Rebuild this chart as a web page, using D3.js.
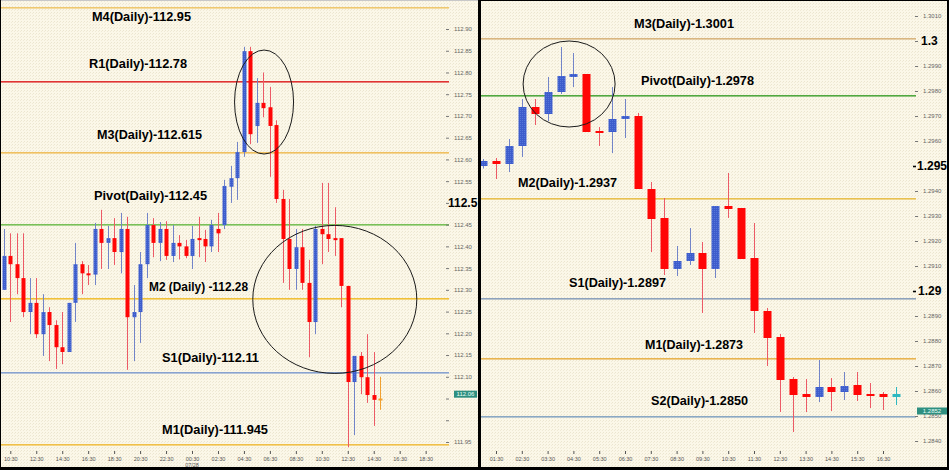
<!DOCTYPE html>
<html><head><meta charset="utf-8">
<script src="https://cdn.jsdelivr.net/npm/d3@7/dist/d3.min.js"></script>
<style>
html,body{margin:0;padding:0;background:#fff;}
svg{display:block;}
</style></head><body>
<svg id="chart" width="949" height="470"></svg>
<script>
// ---------------- DATA ----------------
// Left panel: 30-minute candles starting 07/27 10:00
const leftOpen  = [112.300,112.378,112.359,112.327,112.249,112.270,112.198,112.249,112.219,112.168,112.157,112.270,112.359,112.338,112.335,112.440,112.408,112.419,112.387,112.440,112.237,112.249,112.359,112.449,112.408,112.440,112.378,112.408,112.400,112.378,112.419,112.417,112.400,112.440,112.449,112.537,112.557,112.617,112.849,112.677,112.730,112.720,112.679,112.509,112.417,112.348,112.398,112.316,112.226,112.440,112.428,112.419,112.419,112.309,112.088,112.148,112.099,112.058,112.050];
const leftHigh  = [112.440,112.430,112.430,112.430,112.327,112.327,112.290,112.260,112.230,112.249,112.270,112.408,112.366,112.357,112.454,112.484,112.447,112.465,112.477,112.468,112.311,112.387,112.477,112.465,112.456,112.458,112.449,112.426,112.415,112.447,112.468,112.438,112.461,112.477,112.553,112.585,112.640,112.859,112.859,112.787,112.800,112.767,112.690,112.530,112.509,112.440,112.440,112.369,112.447,112.546,112.546,112.490,112.419,112.309,112.148,112.157,112.198,112.157,112.100];
const leftLow   = [112.300,112.226,112.290,112.237,112.198,112.189,112.148,112.136,112.118,112.129,112.157,112.226,112.290,112.311,112.311,112.348,112.348,112.357,112.338,112.116,112.136,112.178,112.327,112.375,112.366,112.369,112.364,112.370,112.373,112.348,112.375,112.364,112.387,112.387,112.440,112.500,112.507,112.606,112.635,112.638,112.697,112.560,112.500,112.316,112.300,112.300,112.300,112.145,112.198,112.359,112.387,112.378,112.260,111.938,111.966,112.060,112.040,111.987,112.024];
const leftClose = [112.378,112.359,112.327,112.249,112.270,112.198,112.249,112.219,112.168,112.157,112.270,112.359,112.338,112.335,112.440,112.408,112.419,112.387,112.440,112.237,112.249,112.359,112.449,112.408,112.440,112.378,112.408,112.400,112.378,112.417,112.415,112.400,112.449,112.430,112.539,112.557,112.617,112.849,112.658,112.730,112.718,112.677,112.509,112.417,112.348,112.398,112.316,112.226,112.440,112.428,112.417,112.416,112.309,112.088,112.148,112.099,112.058,112.047,112.049];

// Right panel: 30-minute candles starting 01:00
const rightOpen  = [1.29500,1.29520,1.29508,1.29580,1.29736,1.29708,1.29796,1.29856,1.29868,1.29640,1.29636,1.29688,1.29700,1.29408,1.29292,1.29088,1.29120,1.29152,1.29088,1.29340,1.29332,1.29132,1.28920,1.28816,1.28648,1.28588,1.28576,1.28616,1.28596,1.28624,1.28588,1.28588,1.28576];
const rightHigh  = [1.29528,1.29532,1.29608,1.29768,1.29768,1.29856,1.29976,1.29952,1.29868,1.29656,1.29816,1.29768,1.29712,1.29436,1.29372,1.29180,1.29252,1.29196,1.29340,1.29472,1.29332,1.29272,1.28932,1.28828,1.28656,1.28648,1.28724,1.28652,1.28676,1.28676,1.28632,1.28596,1.28616];
const rightLow   = [1.29490,1.29448,1.29476,1.29536,1.29664,1.29680,1.29788,1.29816,1.29636,1.29580,1.29552,1.29612,1.29408,1.29156,1.29064,1.29060,1.29104,1.28912,1.29052,1.29292,1.29128,1.28832,1.28700,1.28516,1.28436,1.28516,1.28556,1.28520,1.28564,1.28560,1.28532,1.28524,1.28544];
const rightClose = [1.29520,1.29508,1.29580,1.29736,1.29708,1.29796,1.29860,1.29868,1.29636,1.29636,1.29688,1.29700,1.29408,1.29288,1.29088,1.29120,1.29152,1.29088,1.29340,1.29328,1.29128,1.28920,1.28812,1.28644,1.28584,1.28576,1.28616,1.28596,1.28620,1.28584,1.28584,1.28576,1.28588];

// Pivot levels
const leftLevelNames  = ["M4(Daily)-112.95","R1(Daily)-112.78","M3(Daily)-112.615","Pivot(Daily)-112.45","M2 (Daily) -112.28","S1(Daily)-112.11","M1(Daily)-111.945"];
const leftLevelValues = [112.95,112.78,112.615,112.45,112.28,112.11,111.945];
const rightLevelNames  = ["M3(Daily)-1.3001","Pivot(Daily)-1.2978","M2(Daily)-1.2937","S1(Daily)-1.2897","M1(Daily)-1.2873","S2(Daily)-1.2850"];
const rightLevelValues = [1.3001,1.2978,1.2937,1.2897,1.2873,1.2850];

// Axis ticks
const leftYTicks = [112.90,112.85,112.80,112.75,112.70,112.65,112.60,112.55,112.50,112.45,112.40,112.35,112.30,112.25,112.20,112.15,112.10,112.05,112.00,111.95];
const leftYTickLabels = ["112.90","112.85","112.80","112.75","112.70","112.65","112.60","112.55","112.5","112.45","112.40","112.35","112.30","112.25","112.20","112.15","112.10","","","111.95"];
const rightYTicks = [1.3010,1.3000,1.2990,1.2980,1.2970,1.2960,1.2950,1.2940,1.2930,1.2920,1.2910,1.2900,1.2890,1.2880,1.2870,1.2860,1.2850,1.2840];
const rightYTickLabels = ["1.3010","1.3","1.2990","1.2980","1.2970","1.2960","1.295","1.2940","1.2930","1.2920","1.2910","1.29","1.2890","1.2880","1.2870","1.2860","1.2850","1.2840"];
const leftXTickLabels = ["10:30","12:30","14:30","16:30","18:30","20:30","22:30","00:30","02:30","04:30","06:30","08:30","10:30","12:30","14:30","16:30","18:30"];
const rightXTickLabels = ["01:30","02:30","03:30","04:30","05:30","06:30","07:30","08:30","09:30","10:30","11:30","12:30","13:30","14:30","15:30","16:30"];
const leftDateLabel = "07/28";
const leftLastPrice = "112.06";
const rightLastPrice = "1.2852";

// ---------------- LAYOUT / STYLE ----------------
const W = 949, H = 470;
const leftStart = new Date(2014, 6, 27, 10, 0);
const rightStart = new Date(2014, 6, 28, 1, 0);
const svg = d3.select("#chart");

const defs = svg.append("defs");
const pat = defs.append("pattern").attr("id","bgdots").attr("width",3).attr("height",3).attr("patternUnits","userSpaceOnUse");
pat.append("rect").attr("width",3).attr("height",3).attr("fill","#fbf7e8");
pat.append("rect").attr("x",0).attr("y",0).attr("width",1).attr("height",1).attr("fill","#ebe5cf");
pat.append("rect").attr("x",2).attr("y",1).attr("width",1).attr("height",1).attr("fill","#f0ead6");
const bpat = defs.append("pattern").attr("id","bluetex").attr("width",2).attr("height",2).attr("patternUnits","userSpaceOnUse");
bpat.append("rect").attr("width",2).attr("height",2).attr("fill","#3d5ccc");
bpat.append("rect").attr("width",1).attr("height",1).attr("fill","#5576d8");

svg.append("rect").attr("x",0).attr("y",0).attr("width",W).attr("height",H).attr("fill","url(#bgdots)");

function tickDates(labels, start){
  let day = new Date(start.getFullYear(), start.getMonth(), start.getDate());
  let prevH = -1;
  return labels.map(s => {
    const [h, m] = s.split(":").map(Number);
    if (h < prevH) day = d3.timeDay.offset(day, 1);
    prevH = h;
    return new Date(day.getFullYear(), day.getMonth(), day.getDate(), h, m);
  });
}

function drawPanel(cfg){
  const g = svg.append("g");
  const n = cfg.open.length;
  const times = d3.range(n).map(i => d3.timeMinute.offset(cfg.start, 30*i));
  const x = d3.scaleTime().domain([cfg.start, d3.timeMinute.offset(cfg.start, 30*cfg.periods)])
              .range([cfg.x0, cfg.x0 + cfg.step*cfg.periods]);
  const y = d3.scaleLinear().domain(cfg.yDomain).range(cfg.yRange);

  // level lines
  g.selectAll("rect.level").data(cfg.levelValues).join("rect")
    .attr("class", "level")
    .attr("x", cfg.lineX[0]).attr("width", cfg.lineX[1] - cfg.lineX[0])
    .attr("y", d => Math.floor(y(d))).attr("height", 1.6)
    .attr("fill", (d,i) => cfg.levelColors[i]);

  // candles
  const c = g.selectAll("g.candle").data(d3.range(n)).join("g").attr("class","candle");
  const colorOf = i => i === n-1 ? cfg.lastColor : (cfg.close[i] > cfg.open[i] ? "up" : "down");
  c.append("line")
    .attr("x1", i => Math.round(x(times[i]))+0.5).attr("x2", i => Math.round(x(times[i]))+0.5)
    .attr("y1", i => y(cfg.high[i])).attr("y2", i => y(cfg.low[i]))
    .attr("stroke", i => { const k = colorOf(i); return k==="up" ? "#7284c8" : k==="down" ? "#ec5a66" : k; })
    .attr("stroke-width", 1);
  c.append("rect")
    .attr("x", i => Math.round(x(times[i])) + 0.5 - cfg.bodyW/2)
    .attr("width", cfg.bodyW)
    .attr("y", i => y(Math.max(cfg.open[i], cfg.close[i])))
    .attr("height", i => Math.max(2, Math.abs(y(cfg.open[i]) - y(cfg.close[i]))))
    .attr("fill", i => { const k = colorOf(i); return k==="up" ? "url(#bluetex)" : k==="down" ? "#ff0606" : k; });

  // level labels
  g.selectAll("text.lvl").data(cfg.levelNames).join("text")
    .attr("class","lvl")
    .attr("x", (d,i) => cfg.labelLayout[i][0])
    .attr("y", (d,i) => Math.round(y(cfg.levelValues[i])) + cfg.labelLayout[i][1])
    .attr("textLength", (d,i) => cfg.labelLayout[i][2])
    .attr("lengthAdjust", "spacingAndGlyphs")
    .attr("font-family", "Liberation Sans, Arial, sans-serif")
    .attr("font-weight", "bold").attr("font-size", 13).attr("fill", "#000")
    .text(d => d);

  // rings
  cfg.rings.forEach(r => {
    g.append("ellipse")
      .attr("cx", x(d3.timeMinute.offset(cfg.start, 30*r.idx)))
      .attr("cy", y(r.price)).attr("rx", r.rx).attr("ry", r.ry)
      .attr("fill", "none").attr("stroke", "#1a1a1a").attr("stroke-width", 1);
  });

  // y axis
  const yAxis = d3.axisRight(y).tickValues(cfg.yTicks).tickSize(3).tickPadding(5)
    .tickFormat((d,i) => cfg.yTickLabels[i]);
  const ya = g.append("g").attr("transform", `translate(${cfg.yAxisX},0)`).call(yAxis);
  ya.select(".domain").remove();
  ya.selectAll("line").attr("stroke", "#777");
  ya.selectAll("text").attr("font-family", "Liberation Sans, Arial, sans-serif")
    .attr("font-size", 6).attr("fill", "#666");
  ya.selectAll(".tick").each(function(d, i){
    const b = cfg.bigTicks[i];
    if (!b) return;
    const t = d3.select(this);
    t.select("text").attr("x", b.dx).attr("font-size", 12).attr("font-weight", "bold").attr("fill", "#000");
    if (b.bold) t.select("line").attr("stroke", "#000").attr("stroke-width", 1.6).attr("x1", -2).attr("x2", 1);
  });

  // x axis
  const xAxis = d3.axisBottom(x).tickValues(tickDates(cfg.xTickLabels, cfg.start)).tickSize(3).tickPadding(3)
    .tickFormat((d,i) => cfg.xTickLabels[i]);
  const xa = g.append("g").attr("transform", `translate(0,${cfg.xAxisY})`).call(xAxis);
  xa.select(".domain").remove();
  xa.selectAll("line").attr("stroke", "#555");
  xa.selectAll("text").attr("font-family", "Liberation Sans, Arial, sans-serif")
    .attr("font-size", 5.5).attr("fill", "#555");

  if (cfg.dateLabel){
    const dd = tickDates(cfg.xTickLabels, cfg.start)[cfg.dateLabel.at];
    g.append("text").attr("x", x(dd)).attr("y", cfg.xAxisY + 16).attr("text-anchor","middle")
      .attr("font-family","Liberation Sans, Arial, sans-serif").attr("font-size",5.5).attr("fill","#555")
      .text(cfg.dateLabel.text);
  }

  // last price box
  const lp = +cfg.lastPrice;
  const by = y(lp);
  g.append("rect").attr("x", cfg.boxX).attr("y", by - 3.5).attr("width", cfg.boxW).attr("height", 7).attr("fill", "#2e8f80");
  g.append("text").attr("x", cfg.boxX + cfg.boxW/2).attr("y", by + 2).attr("text-anchor","middle")
    .attr("font-family","Liberation Sans, Arial, sans-serif").attr("font-size",6).attr("fill","#e8fff8")
    .text(cfg.lastPrice);
}

drawPanel({
  start: leftStart, periods: 68, x0: 3.8, step: 6.49,
  open: leftOpen, high: leftHigh, low: leftLow, close: leftClose,
  yDomain: [111.95, 112.90], yRange: [442, 29],
  levelValues: leftLevelValues, levelNames: leftLevelNames,
  levelColors: ["#eec870","#e03434","#f0c060","#78c058","#f0c038","#88a2d0","#f0c048"],
  lineX: [1, 449],
  labelLayout: [[92,14,99],[89,-13,98],[97,-14,105],[94,-25,113],[149,-8,99],[162,-10,97],[162,-10,106]],
  rings: [{idx:40.1, price:112.732, rx:29.5, ry:52},{idx:51, price:112.278, rx:82, ry:74}],
  yTicks: leftYTicks, yTickLabels: leftYTickLabels, yAxisX: 446,
  bigTicks: {8: {dx: 2, bold:false}},
  xTickLabels: leftXTickLabels, xAxisY: 451,
  dateLabel: {at: 7, text: leftDateLabel},
  lastColor: "#f0a030", lastPrice: leftLastPrice, boxX: 454, boxW: 23,
  bodyW: 4
});

drawPanel({
  start: rightStart, periods: 34, x0: 483.1, step: 12.9,
  open: rightOpen, high: rightHigh, low: rightLow, close: rightClose,
  yDomain: [1.2840, 1.3010], yRange: [441, 16],
  levelValues: rightLevelValues, levelNames: rightLevelNames,
  levelColors: ["#d9b680","#50a840","#e8c050","#8ea2bc","#e8b450","#8aa8c4"],
  lineX: [481, 916],
  labelLayout: [[634,-10,100],[641,-11,113],[518,-11,99],[569,-11,97],[645,-9,98],[651,-11,97]],
  rings: [{idx:6.67, price:1.29828, rx:46, ry:43}],
  yTicks: rightYTicks, yTickLabels: rightYTickLabels, yAxisX: 915,
  bigTicks: {1: {dx: 6, bold:false}, 6: {dx: 2, bold:true}, 11: {dx: 3, bold:true}},
  xTickLabels: rightXTickLabels, xAxisY: 451,
  dateLabel: null,
  lastColor: "#2fb8c0", lastPrice: rightLastPrice, boxX: 917, boxW: 30,
  bodyW: 8
});

// frame lines
const frame = svg.append("g").attr("fill", "#000");
frame.append("rect").attr("x",0).attr("y",0).attr("width",1).attr("height",H);
frame.append("rect").attr("x",478).attr("y",0).attr("width",3).attr("height",H);
frame.append("rect").attr("x",947).attr("y",0).attr("width",2).attr("height",H);
frame.append("rect").attr("x",0).attr("y",467).attr("width",W).attr("height",3);
frame.append("rect").attr("x",481).attr("y",0).attr("width",468).attr("height",1);
svg.append("rect").attr("x",1).attr("y",0).attr("width",477).attr("height",1).attr("fill","#c8c8c8");
</script>
</body></html>
